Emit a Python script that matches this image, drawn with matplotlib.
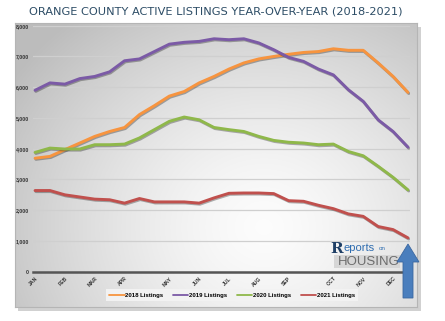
import numpy as np
import matplotlib
matplotlib.use("Agg")
import matplotlib.pyplot as plt
import matplotlib.patheffects as pe
from matplotlib.patches import Rectangle, Polygon
from matplotlib.ticker import FuncFormatter

# biweekly active listing counts, Jan -> Dec
listings_2018 = [3690, 3750, 3970, 4185, 4400, 4560, 4690, 5110, 5400, 5710,
                 5860, 6140, 6350, 6590, 6790, 6920, 7000, 7070, 7130, 7160,
                 7250, 7200, 7200, 6790, 6350, 5830]
listings_2019 = [5900, 6140, 6100, 6280, 6350, 6500, 6860, 6920, 7160, 7400,
                 7460, 7490, 7575, 7545, 7575, 7440, 7220, 6970, 6840, 6590,
                 6400, 5920, 5540, 4940, 4560, 4050]
listings_2020 = [3880, 4020, 3990, 3990, 4130, 4130, 4150, 4350, 4620, 4890,
                 5030, 4940, 4690, 4620, 4560, 4400, 4270, 4210, 4185, 4130,
                 4150, 3910, 3770, 3430, 3070, 2660]
listings_2021 = [2640, 2640, 2500, 2430, 2360, 2340, 2230, 2380, 2270, 2270,
                 2270, 2230, 2400, 2550, 2560, 2560, 2540, 2310, 2290, 2160,
                 2050, 1880, 1800, 1470, 1370, 1100]

series = [
    ("2018 Listings", listings_2018, "#f7943f"),
    ("2019 Listings", listings_2019, "#7b5aa6"),
    ("2020 Listings", listings_2020, "#8fb84a"),
    ("2021 Listings", listings_2021, "#c0504d"),
]

month_labels = ["JAN", "FEB", "MAR", "APR", "MAY", "JUN",
                "JUL", "AUG", "SEP", "OCT", "NOV", "DEC"]
month_ticks = [0, 2, 4, 6, 9, 11, 13, 15, 17, 20, 22, 24]

W, H = 445, 321


def box(x0, y0, x1, y1):
    # pixel box (top-left origin) -> figure fraction rect
    return [x0 / W, 1 - y1 / H, (x1 - x0) / W, (y1 - y0) / H]


def pt(x, y):
    return (x / W, 1 - y / H)


fig = plt.figure(figsize=(W / 100, H / 100), dpi=100)
fig.patch.set_facecolor("white")

# drop shadow behind the chart panel
fig.patches.append(Rectangle(pt(18, 311), 403 / W, 284 / H,
                             transform=fig.transFigure, facecolor="#9a9a9a",
                             alpha=0.45, edgecolor="none", zorder=0))

# panel with a soft grey-to-white radial gradient
bg = fig.add_axes(box(15, 23, 417, 307), zorder=1)
gx, gy = np.meshgrid(np.linspace(0, 1, 300), np.linspace(0, 1, 200))
r = np.sqrt(((gx - 0.62) / 0.75) ** 2 + ((gy - 0.28) / 0.95) ** 2)
r = np.clip(r, 0, 1) ** 1.4
light, dark = np.array([0.99, 0.99, 0.99]), np.array([0.74, 0.74, 0.74])
img = light[None, None, :] * (1 - r[..., None]) + dark[None, None, :] * r[..., None]
bg.imshow(img, extent=[0, 1, 0, 1], origin="lower", aspect="auto")
bg.set_xlim(0, 1)
bg.set_ylim(0, 1)
for s in bg.spines.values():
    s.set_color("#b5b5b5")
    s.set_linewidth(0.8)
bg.set_xticks([])
bg.set_yticks([])

ax = fig.add_axes(box(32.8, 25.7, 410.2, 271.7), zorder=2)
ax.set_facecolor("none")

for name, vals, color in series:
    ax.plot(range(len(vals)), vals, color=color, lw=2.1, label=name,
            solid_capstyle="round",
            path_effects=[pe.SimpleLineShadow(offset=(0.6, -0.8), alpha=0.3),
                          pe.Normal()])

ax.set_xlim(-0.15, 25.15)
ax.set_ylim(0, 8000)
ax.set_yticks(range(0, 8001, 1000))
ax.yaxis.set_major_formatter(FuncFormatter(lambda v, p: f"{int(v):,}"))
ax.grid(axis="y", color="#cfcfcf", lw=0.9)
ax.set_axisbelow(True)
ax.set_xticks(month_ticks)
ax.set_xticklabels(month_labels, rotation=45, ha="right", rotation_mode="anchor")
ax.tick_params(axis="both", length=0, labelsize=3.7, colors="#333333")
ax.tick_params(axis="y", pad=2.6)
ax.tick_params(axis="x", pad=3)
for lab in ax.get_xticklabels() + ax.get_yticklabels():
    lab.set_fontweight("bold")
    lab.set_fontfamily("Liberation Sans")
for side in ("top", "right", "left"):
    ax.spines[side].set_visible(False)
ax.spines["bottom"].set_color("#555555")
ax.spines["bottom"].set_linewidth(1.8)

leg = ax.legend(loc="center", bbox_to_anchor=pt(232, 295),
                bbox_transform=fig.transFigure, ncol=4, frameon=True,
                fancybox=False, prop={"family": "Liberation Sans",
                                      "weight": "bold", "size": 4.3},
                handlelength=2.6, handletextpad=0.1, columnspacing=1.6,
                borderpad=0.6)
leg.get_frame().set_facecolor("#f2f2f2")
leg.get_frame().set_edgecolor("none")
leg.get_frame().set_alpha(1)
for h in leg.get_lines():
    h.set_linewidth(1.3)
    h.set_path_effects([])

fig.text(216 / W, 1 - 12 / H,
         "ORANGE COUNTY ACTIVE LISTINGS YEAR-OVER-YEAR (2018-2021)",
         ha="center", va="center", color="#2d4d66", fontsize=8.2,
         family="DejaVu Sans")

# logo block
fig.patches.append(Rectangle(pt(334, 268), 66 / W, 13 / H,
                             transform=fig.transFigure, facecolor="#d6d6d6",
                             edgecolor="none", zorder=3))
fig.text(*pt(330, 249), "R", fontsize=11, fontweight="bold", color="#1f3f66",
         family="DejaVu Serif", ha="left", va="center", zorder=4)
fig.text(*pt(343, 248), "eports", fontsize=8, color="#2f6db0",
         family="Liberation Sans", ha="left", va="center", zorder=4)
fig.text(*pt(379, 249), "on", fontsize=4.5, color="#2f6db0",
         family="Liberation Sans", ha="left", va="center", zorder=4)
fig.text(*pt(338, 262), "HOUSING", fontsize=9.5, color="#6c6c6c",
         family="Liberation Sans", ha="left", va="center", zorder=4)

# up arrow at the right edge
arrow = [pt(403, 298), pt(413, 298), pt(413, 262), pt(419, 262),
         pt(408, 244), pt(397, 262), pt(403, 262)]
fig.patches.append(Polygon(arrow, closed=True, transform=fig.transFigure,
                           facecolor="#4a7ebd", edgecolor="#3b67a0",
                           lw=0.6, zorder=5))

fig.savefig("out.png", dpi=100)
